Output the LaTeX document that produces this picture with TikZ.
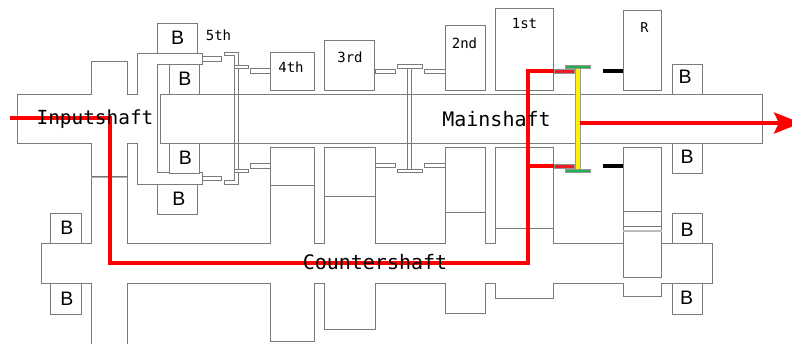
\documentclass[tikz,border=0pt]{standalone}
\usepackage{fontspec}
\setmonofont{DejaVu Sans Mono}
\setsansfont{Liberation Sans}
\usetikzlibrary{arrows.meta}
\definecolor{edge}{HTML}{7A7A7A}
\definecolor{pathred}{HTML}{FF0000}
\definecolor{ringred}{HTML}{ED1C24}
\definecolor{ringgreen}{HTML}{22B14C}
\tikzset{
  outline/.style={draw=edge,line width=1pt,line join=miter},
  part/.style={outline,fill=white},
  bearing/.style={draw=edge,line width=1pt,fill=white,inner sep=0pt},
  bearingtext/.style={inner sep=0pt,font=\sffamily\fontsize{19.5}{19.5}\selectfont},
  gearlabel/.style={inner sep=0pt,font=\ttfamily\fontsize{14}{14}\selectfont},
  shaftlabel/.style={inner sep=0pt,font=\ttfamily\fontsize{20}{20}\selectfont},
  power/.style={draw=pathred,line width=4pt,line join=miter},
  thinpart/.style={draw=edge!80,line width=0.4pt},
}
\newcommand{\boxat}[5][]{\draw[part,#1] (#2,#3) rectangle (#4,#5);}
% name, centre x, centre y, width, height, text x, text y
\newcommand{\bearingat}[7]{%
  \node[bearing,minimum width=#4pt,minimum height=#5pt] (#1) at (#2,#3) {};
  \node[bearingtext] (#1t) at (#6,#7) {B};}
\begin{document}
\begin{tikzpicture}[x=1pt,y=-1pt]
\useasboundingbox (0,0) rectangle (792,344);
% input shaft and its housing
\draw[outline] (91,344) -- (91,283.3) -- (41,283.3) -- (41,243.3) -- (91,243.3) -- (91,143.3) -- (17,143.3) -- (17,94.7) -- (91,94.7) -- (91,61.3) -- (127,61.3) -- (127,94.7) -- (137,94.7) -- (137,53.3) -- (202,53.3) -- (202,64.3) -- (157,64.3) -- (157,172.9) -- (202,172.9) -- (202,184.2) -- (137,184.2) -- (137,143.3) -- (127,143.3) -- (127,243.3) -- (270,243.3) -- (270,147.3) -- (314.3,147.3) -- (314.3,243.3) -- (324.3,243.3) -- (324.3,147.3) -- (375,147.3) -- (375,243.3) -- (445,243.3) -- (445,147.3) -- (485.3,147.3) -- (485.3,243.3) -- (495,243.3) -- (495,147.3) -- (553.7,147.3) -- (553.7,243.3) -- (623.3,243.3);
\draw[outline] (127,344) -- (127,283.3) -- (270,283.3) -- (270,342) -- (314.3,342) -- (314.3,283.3) -- (324.3,283.3) -- (324.3,329.3) -- (375,329.3) -- (375,283.3) -- (445,283.3) -- (445,313.7) -- (485.3,313.7) -- (485.3,283.3) -- (495,283.3) -- (495,298.3) -- (553.7,298.3) -- (553.7,283.3) -- (623.3,283.3) -- (623.3,296.3) -- (661.7,296.3) -- (661.7,283.3) -- (712,283.3) -- (712,243.3) -- (661.7,243.3);
\draw[outline] (91,176.5) -- (127,176.5);
\draw[draw=edge!60,line width=1pt] (91,178) -- (127,178);
% upper gears
\draw[outline] (270.3,90.3) rectangle (314.3,52.3);
\draw[outline] (324.3,90.3) rectangle (374.7,40.3);
\draw[outline] (445,90.3) rectangle (485.3,25.3);
\draw[outline] (495,90.3) rectangle (553.7,8.3);
\draw[outline] (623.3,90.3) rectangle (661.7,10.3);
% lower gear divisions
\draw[outline] (270.3,185.5) -- (314.3,185.5);
\draw[outline] (324.3,197) -- (374.7,197);
\draw[outline] (445,212.7) -- (485.3,212.7);
\draw[outline] (495,228.7) -- (553.7,228.7);
\draw[outline] (623.3,147.3) rectangle (661.7,277.3);
\draw[outline] (623.3,212) -- (661.7,212);
\draw[outline] (623.3,226.3) -- (661.7,226.3);
\draw[draw=edge!50,line width=1.3pt] (623.3,231) -- (661.7,231);
% bearings
\bearingat{b1}{177}{38.2}{40}{30}{177.7}{37.7}
\bearingat{b2}{184.5}{79.4}{30}{30.5}{184.8}{79.2}
\bearingat{b3}{184.5}{158.2}{30}{30}{185.5}{158}
\bearingat{b4}{177}{199.4}{40}{30.5}{179}{199}
\bearingat{b5}{66}{228.2}{31}{30}{67}{228}
\bearingat{b6}{66}{298.7}{31}{31}{67}{299}
\bearingat{b7}{687}{79.4}{30}{30.5}{685}{77}
\bearingat{b8}{687}{158.4}{30}{30.5}{687}{157}
\bearingat{b9}{687}{228.4}{30}{29.5}{687}{229.7}
\bearingat{b10}{687}{298.7}{30}{31}{686.5}{298}
% main shaft
\draw[outline] (160,94.7) rectangle (762.5,143.3);
% fifth and fourth selector
\boxat{202}{56.7}{221.7}{61.3}
\boxat{202}{176.3}{221.7}{180.7}
\draw[outline] (224,52.7) -- (238.3,52.7) -- (238.3,184.3) -- (224,184.3) -- (224,181) -- (234.4,181) -- (234.4,55.8) -- (224,55.8) -- cycle;
\boxat{234.4}{65.7}{248.3}{68.7}
\boxat{234.4}{169.3}{248.3}{172.3}
\boxat{250}{69}{270}{73.3}
\boxat{250}{164}{270}{168.3}
% third and second selector
\boxat{375}{69.3}{395}{73.3}
\boxat{375}{164}{395}{168}
\boxat{424.3}{69.3}{445}{73.3}
\boxat{424.3}{164}{445}{168}
\draw[outline] (407.3,68.3) -- (407.3,169.2) (411.7,68.3) -- (411.7,169.2);
\boxat{397.7}{65}{422}{68.3}
\boxat{397.7}{169.2}{422}{172.5}
% power flow
\coordinate (inEnd) at (10,118);
\coordinate (inBend) at (110,118);
\coordinate (csLeft) at (110,263.3);
\coordinate (csRight) at (527.7,263.3);
\coordinate (topBend) at (527.7,71.3);
\coordinate (topEnd) at (555,71.3);
\coordinate (lowBend) at (527.7,166);
\coordinate (lowEnd) at (555,166);
\coordinate (outEnd) at (801,123);
\draw[power] (inEnd) -- (inBend) -- (csLeft) -- (csRight) -- (topBend) -- (topEnd);
\draw[power] (lowBend) -- (lowEnd);
% first gear selector
\draw[thinpart,fill=ringred] (553.7,69.3) rectangle (573.7,73.3);
\draw[thinpart,fill=ringred] (553.7,164) rectangle (573.7,168);
\node[thinpart,fill=yellow,inner sep=0pt,minimum width=4.8pt,minimum height=101pt] (stem) at (577.5,118.75) {};
\node[thinpart,fill=ringgreen,inner sep=0pt,minimum width=24.4pt,minimum height=3.6pt] (ringTop) at (577.5,66.7) {};
\node[thinpart,fill=ringgreen,inner sep=0pt,minimum width=24.4pt,minimum height=3.6pt] (ringLow) at (577.5,170.8) {};
\draw[power,-{Stealth[length=27pt,width=21pt,inset=5pt]}] (stem.east |- outEnd) -- (outEnd);
% reverse selector
\fill[black] (603.3,69.3) rectangle (623.3,73.3);
\fill[black] (603.3,164) rectangle (623.3,168);
% labels
\node[shaftlabel,font=\ttfamily\fontsize{19.4}{19.4}\selectfont] (inputL) at (95,119.5) {Inputshaft};
\node[shaftlabel] (mainL) at (496.5,119.5) {Mainshaft};
\node[shaftlabel] (counterL) at (375,262.5) {Countershaft};
\node[gearlabel] (g5) at (218.5,35.5) {5th};
\node[gearlabel] (g4) at (291,67.5) {4th};
\node[gearlabel] (g3) at (350,57.5) {3rd};
\node[gearlabel] (g2) at (464.5,43.5) {2nd};
\node[gearlabel] (g1) at (524.5,23.5) {1st};
\node[inner sep=0pt,font=\ttfamily\fontsize{13.5}{13.5}\selectfont] (gr) at (644.5,27.5) {R};
\end{tikzpicture}
\end{document}
